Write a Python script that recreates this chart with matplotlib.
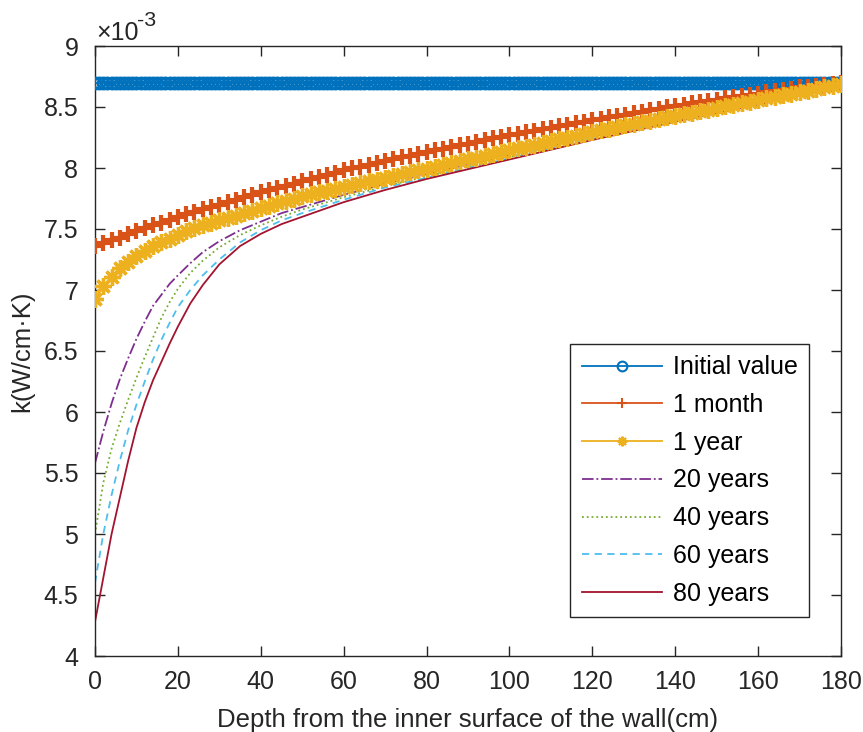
import numpy as np
import matplotlib
matplotlib.use("Agg")
import matplotlib.pyplot as plt

plt.rcParams['font.family'] = ['Liberation Sans', 'DejaVu Sans']

# ---------------- data (k in units of 1e-3 W/cm·K) ----------------
depth_init = np.arange(0, 181, 1)
k_init = np.full(depth_init.shape, 8.70)

depth_mark = np.arange(0, 181, 2)
k_1month = [7.36, 7.385, 7.41, 7.43, 7.455, 7.48,
            7.505, 7.53, 7.55, 7.575, 7.60,
            7.62, 7.64, 7.66, 7.68, 7.70,
            7.72, 7.74, 7.76, 7.78, 7.80,
            7.818, 7.836, 7.854, 7.872, 7.89,
            7.908, 7.926, 7.944, 7.962, 7.98,
            7.996, 8.012, 8.028, 8.044, 8.06,
            8.074, 8.088, 8.102, 8.116, 8.13,
            8.144, 8.158, 8.172, 8.186, 8.20,
            8.214, 8.228, 8.242, 8.256, 8.27,
            8.282, 8.294, 8.306, 8.318, 8.33,
            8.342, 8.354, 8.366, 8.378, 8.39,
            8.402, 8.414, 8.426, 8.438, 8.45,
            8.462, 8.474, 8.486, 8.498, 8.51,
            8.52, 8.53, 8.54, 8.55, 8.56,
            8.57, 8.58, 8.59, 8.60, 8.61,
            8.62, 8.63, 8.64, 8.65, 8.66,
            8.668, 8.676, 8.684, 8.692, 8.70]
k_1year = [6.93, 7.03, 7.11, 7.18, 7.23, 7.28,
           7.32, 7.36, 7.39, 7.42, 7.45,
           7.48, 7.505, 7.53, 7.55, 7.57,
           7.59, 7.61, 7.63, 7.65, 7.67,
           7.69, 7.71, 7.73, 7.75, 7.77,
           7.785, 7.80, 7.815, 7.83, 7.845,
           7.86, 7.875, 7.89, 7.905, 7.92,
           7.935, 7.95, 7.965, 7.98, 7.995,
           8.01, 8.025, 8.04, 8.055, 8.07,
           8.085, 8.10, 8.115, 8.13, 8.145,
           8.16, 8.175, 8.19, 8.205, 8.22,
           8.235, 8.25, 8.265, 8.28, 8.295,
           8.31, 8.323, 8.336, 8.349, 8.362,
           8.375, 8.388, 8.401, 8.414, 8.427,
           8.44, 8.453, 8.466, 8.479, 8.492,
           8.505, 8.518, 8.531, 8.544, 8.557,
           8.57, 8.583, 8.596, 8.609, 8.622,
           8.635, 8.648, 8.661, 8.674, 8.69]

depth_lines = [0, 2, 4, 6, 8, 10, 12, 14, 16, 18, 20, 23, 26, 30, 35, 40, 45,
               50, 60, 70, 80, 100, 120, 140, 160, 180]
k_20y = [5.58, 5.84, 6.07, 6.27, 6.44, 6.60, 6.74, 6.87, 6.96, 7.05, 7.12,
         7.22, 7.31, 7.40, 7.49, 7.56, 7.63, 7.68, 7.78, 7.87, 7.95, 8.11,
         8.26, 8.41, 8.55, 8.69]
k_40y = [5.00, 5.42, 5.70, 5.91, 6.10, 6.28, 6.45, 6.61, 6.77, 6.90, 7.01,
         7.14, 7.24, 7.35, 7.45, 7.53, 7.60, 7.66, 7.76, 7.85, 7.93, 8.09,
         8.25, 8.40, 8.54, 8.68]
k_60y = [4.60, 5.00, 5.32, 5.60, 5.85, 6.06, 6.25, 6.43, 6.59, 6.73, 6.86,
         7.00, 7.12, 7.25, 7.39, 7.49, 7.57, 7.63, 7.74, 7.84, 7.92, 8.08,
         8.24, 8.39, 8.53, 8.68]
k_80y = [4.28, 4.64, 5.00, 5.30, 5.60, 5.87, 6.08, 6.26, 6.41, 6.56, 6.70,
         6.89, 7.04, 7.21, 7.36, 7.46, 7.54, 7.60, 7.72, 7.82, 7.91, 8.07,
         8.23, 8.38, 8.52, 8.67]

labels = ['Initial value', '1 month', '1 year', '20 years', '40 years',
          '60 years', '80 years']
x_ticks = [0, 20, 40, 60, 80, 100, 120, 140, 160, 180]
y_ticks = [4, 4.5, 5, 5.5, 6, 6.5, 7, 7.5, 8, 8.5, 9]

# ---------------- figure ----------------
W, H = 863, 732
fig = plt.figure(figsize=(W / 100, H / 100), dpi=100)
ax = fig.add_axes([95 / W, 1 - 656 / H, (841 - 95) / W, (656 - 46) / H])

c_blue = '#0072BD'
c_orange = '#D95319'
c_yellow = '#EDB120'
c_purple = '#7E2F8E'
c_green = '#77AC30'
c_cyan = '#4DBEEE'
c_red = '#A2142F'

asterisk = (8, 2, 0)
lw = 1.3
ax.plot(depth_init, k_init, '-o', color=c_blue, lw=lw, ms=8,
        mfc='none', mew=2.0, label=labels[0], zorder=3)
ax.plot(depth_mark, k_1month, '-', marker='+', color=c_orange, lw=lw, ms=12,
        mew=3.0, label=labels[1], zorder=3)
ax.plot(depth_mark, k_1year, '-', marker=asterisk, color=c_yellow, lw=lw,
        ms=12, mew=2.4, label=labels[2], zorder=3)
ax.plot(depth_lines, k_20y, '-.', color=c_purple, lw=lw, label=labels[3])
ax.plot(depth_lines, k_40y, ':', color=c_green, lw=lw, label=labels[4])
ax.plot(depth_lines, k_60y, '--', color=c_cyan, lw=lw, label=labels[5],
        dashes=(4, 3))
ax.plot(depth_lines, k_80y, '-', color=c_red, lw=lw, label=labels[6])

ax.set_xlim(0, 180)
ax.set_ylim(4, 9)
ax.set_xticks(x_ticks)
ax.set_yticks(y_ticks)
ax.set_yticklabels(['%g' % v for v in y_ticks])

axc = '#262626'
fs = 18
for s in ax.spines.values():
    s.set_color(axc)
    s.set_linewidth(1.0)
ax.tick_params(direction='in', length=7, width=1.0, colors=axc,
               labelsize=fs, top=True, right=True)
ax.tick_params(axis='x', pad=10)
ax.tick_params(axis='y', pad=12)
for t in ax.get_xticklabels() + ax.get_yticklabels():
    t.set_color(axc)

ax.set_xlabel('Depth from the inner surface of the wall(cm)', fontsize=18.5,
              color=axc, labelpad=10)
ax.set_ylabel('k(W/cm·K)', fontsize=18.5, color=axc, labelpad=7)

fig.text(96 / W, 1 - 40 / H, '×10', fontsize=fs, color=axc,
         ha='left', va='baseline')
fig.text(137 / W, 1 - 26 / H, '-3', fontsize=fs * 0.85, color=axc,
         ha='left', va='baseline')

leg = ax.legend(loc='lower right',
                bbox_to_anchor=((809 - 95) / 746, (656 - 617) / 610),
                borderaxespad=0, fontsize=fs, frameon=True, fancybox=False,
                handlelength=3.2, handletextpad=0.45, labelspacing=0.55,
                borderpad=0.45)
leg.get_frame().set_edgecolor(axc)
leg.get_frame().set_linewidth(1.0)
leg.get_frame().set_alpha(1)
for h in leg.legend_handles:
    h.set_markersize(7)
    h.set_markeredgewidth(1.5)

fig.savefig('out.png', dpi=100)
